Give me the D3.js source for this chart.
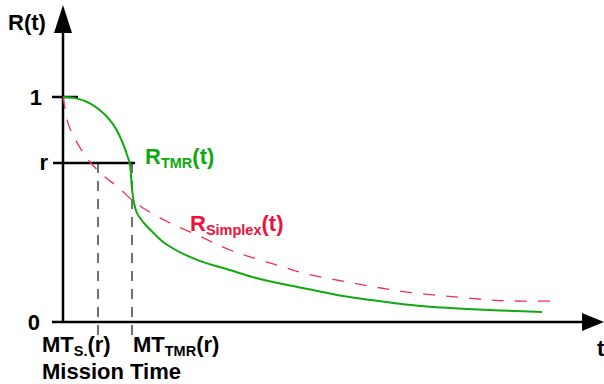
<!DOCTYPE html>
<html>
<head>
<meta charset="utf-8">
<script src="https://cdn.jsdelivr.net/npm/d3@7"></script>
<style>
  body { margin: 0; background: #fff; }
  text { font-family: "Liberation Sans", Arial, sans-serif; font-weight: bold; }
</style>
</head>
<body>
<div id="graph"></div>
<script>
// mission time (arbitrary units) and reliability
const tmrT = [0, 2.7, 5.4, 8.1, 10.1, 11.7, 12.7, 13.4, 13.7, 14.1, 14.8, 16.2, 18, 20.5, 26.8, 33.4, 39.4, 48, 54.8, 61.4, 71.4, 80.8, 95.8];
const tmrR = [1, 0.994, 0.972, 0.928, 0.876, 0.809, 0.75, 0.698, 0.618, 0.542, 0.484, 0.44, 0.398, 0.348, 0.276, 0.231, 0.191, 0.151, 0.12, 0.098, 0.071, 0.058, 0.044];

const simplexT = [0, 0.4, 1, 2, 3.7, 5.4, 8.4, 11, 13.8, 16, 21.4, 26.8, 33.4, 42.8, 48, 58, 68.8, 80.8, 87.4, 98];
const simplexR = [1, 0.95, 0.884, 0.831, 0.764, 0.711, 0.644, 0.6, 0.542, 0.507, 0.44, 0.387, 0.32, 0.253, 0.218, 0.173, 0.133, 0.107, 0.095, 0.093];

const rLevel = 0.707;       // the "r" reliability level
const mtSimplex = 7;        // MT_S.(r)
const mtTMR = 13.8;         // MT_TMR(r)

const W = 604, H = 384;

const svg = d3.select("#graph")
  .append("svg")
  .attr("width", W)
  .attr("height", H)
  .style("display", "block");

const x = d3.scaleLinear().domain([0, 100]).range([63, 563]);
const y = d3.scaleLinear().domain([0, 1]).range([322, 97]);

// x axis + arrow
svg.append("line")
  .attr("x1", 52).attr("x2", 584)
  .attr("y1", y(0)).attr("y2", y(0))
  .attr("stroke", "#000").attr("stroke-width", 2.5);
svg.append("path")
  .attr("d", `M582,${y(0) - 9}L604,${y(0)}L582,${y(0) + 9}Z`)
  .attr("fill", "#000");

// y axis + arrow
svg.append("line")
  .attr("x1", x(0)).attr("x2", x(0))
  .attr("y1", y(0)).attr("y2", 30)
  .attr("stroke", "#000").attr("stroke-width", 2.5);
svg.append("path")
  .attr("d", `M${x(0) - 9},33L${x(0)},5L${x(0) + 9},33Z`)
  .attr("fill", "#000");

// tick at 1
svg.append("line")
  .attr("x1", 52).attr("x2", 78)
  .attr("y1", y(1)).attr("y2", y(1))
  .attr("stroke", "#000").attr("stroke-width", 2.5);

// dashed drop lines for mission times
[mtSimplex, mtTMR].forEach((t) => {
  svg.append("line")
    .attr("x1", x(t)).attr("x2", x(t))
    .attr("y1", y(rLevel)).attr("y2", 335)
    .attr("stroke", "#707070").attr("stroke-width", 2)
    .attr("stroke-dasharray", "10,8");
});

// the r level line
svg.append("line")
  .attr("x1", 53).attr("x2", 135)
  .attr("y1", y(rLevel)).attr("y2", y(rLevel))
  .attr("stroke", "#000").attr("stroke-width", 2.5);

const line = d3.line()
  .x((d) => x(d[0]))
  .y((d) => y(d[1]))
  .curve(d3.curveCatmullRom.alpha(0.5));

svg.append("path")
  .datum(d3.zip(simplexT, simplexR))
  .attr("d", line)
  .attr("fill", "none")
  .attr("stroke", "#f0305a")
  .attr("stroke-width", 1.3)
  .attr("stroke-dasharray", "12,11");

svg.append("path")
  .datum(d3.zip(tmrT, tmrR))
  .attr("d", line)
  .attr("fill", "none")
  .attr("stroke", "#10aa10")
  .attr("stroke-width", 2);

// labels
function label(px, py, parts, color, anchor) {
  const t = svg.append("text")
    .attr("x", px).attr("y", py)
    .attr("fill", color || "#000")
    .attr("text-anchor", anchor || "start")
    .style("font-size", "22px");
  let sub = false;
  parts.forEach((p) => {
    const isSub = p[1] === "sub";
    const s = t.append("tspan").text(p[0]);
    if (isSub) s.style("font-size", "14.5px");
    if (isSub && !sub) s.attr("dy", 4);
    else if (!isSub && sub) s.attr("dy", -4);
    sub = isSub;
  });
  return t;
}

label(8, 30, [["R(t)"]]);
label(42, y(1) + 8, [["1"]], "#000", "end");
label(48, y(rLevel) + 7, [["r"]], "#000", "end");
label(40, y(0) + 8, [["0"]], "#000", "end");
label(597, 356, [["t"]]);

label(145, 164, [["R"], ["TMR", "sub"], ["(t)"]], "#10aa10");
label(190, 231, [["R"], ["Simplex", "sub"], ["(t)"]], "#f0103c");

label(42, 352, [["MT"], ["S.", "sub"], ["(r)"]]);
label(133, 352, [["MT"], ["TMR", "sub"], ["(r)"]]);
label(42, 379, [["Mission Time"]]);
</script>
</body>
</html>
